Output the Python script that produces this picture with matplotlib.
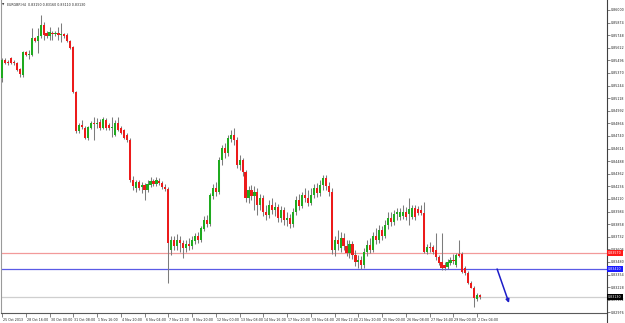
import matplotlib
matplotlib.use("Agg")
import matplotlib.pyplot as plt
import matplotlib.transforms as mtransforms
from matplotlib.lines import Line2D
import numpy as np

symbol_title = "EURGBP,H4  0.83150 0.83160 0.83110 0.83130"

opens = [0.8532, 0.8550, 0.8548, 0.8552, 0.8548, 0.8547, 0.8541, 0.8535, 0.8558, 0.8555,
         0.8555, 0.8572, 0.8569, 0.8574, 0.8585, 0.8577, 0.8574, 0.8577, 0.8576, 0.8577,
         0.8575, 0.8576, 0.8575, 0.8569, 0.8563, 0.8518, 0.8479, 0.8485, 0.8482, 0.8472,
         0.8482, 0.8487, 0.8486, 0.8488, 0.8482, 0.8490, 0.8485, 0.8482, 0.8475, 0.8487,
         0.8482, 0.8480, 0.8475, 0.8470, 0.8430, 0.8422, 0.8428, 0.8423, 0.8425, 0.8420,
         0.8425, 0.8429, 0.8426, 0.8429, 0.8427, 0.8423, 0.8421, 0.8360, 0.8370, 0.8364,
         0.8370, 0.8367, 0.8362, 0.8366, 0.8364, 0.8369, 0.8374, 0.8370, 0.8381, 0.8390,
         0.8386, 0.8414, 0.8422, 0.8418, 0.8450, 0.8462, 0.8457, 0.8471, 0.8475, 0.8470,
         0.8445, 0.8450, 0.8438, 0.8412, 0.8420, 0.8414, 0.8418, 0.8405, 0.8412, 0.8398,
         0.8395, 0.8405, 0.8400, 0.8403, 0.8392, 0.8400, 0.8390, 0.8392, 0.8386, 0.8398,
         0.8410, 0.8404, 0.8415, 0.8412, 0.8407, 0.8415, 0.8422, 0.8417, 0.8425, 0.8432,
         0.8424, 0.8418, 0.8360, 0.8370, 0.8362, 0.8372, 0.8364, 0.8357, 0.8366, 0.8355,
         0.8348, 0.8350, 0.8345, 0.8358, 0.8365, 0.8360, 0.8374, 0.8370, 0.8380, 0.8374,
         0.8385, 0.8392, 0.8388, 0.8396, 0.8393, 0.8394, 0.8398, 0.8396, 0.8393, 0.8402,
         0.8401, 0.8400, 0.8397, 0.8358, 0.8363, 0.8363, 0.8360, 0.8353, 0.8348, 0.8345,
         0.8343, 0.8347, 0.8350, 0.8345, 0.8356, 0.8356, 0.8342, 0.8337, 0.8327, 0.8322,
         0.8311, 0.8315]
highs = [0.8552, 0.8552, 0.8550, 0.8553, 0.8550, 0.8548, 0.8542, 0.8559, 0.8559, 0.8560,
         0.8582, 0.8573, 0.8582, 0.8595, 0.8588, 0.8579, 0.8583, 0.8579, 0.8579, 0.8583,
         0.8587, 0.8577, 0.8577, 0.8570, 0.8564, 0.8519, 0.8487, 0.8490, 0.8484, 0.8484,
         0.8489, 0.8493, 0.8492, 0.8491, 0.8493, 0.8492, 0.8487, 0.8493, 0.8490, 0.8493,
         0.8484, 0.8481, 0.8477, 0.8472, 0.8434, 0.8430, 0.8430, 0.8428, 0.8427, 0.8430,
         0.8433, 0.8431, 0.8433, 0.8432, 0.8429, 0.8426, 0.8423, 0.8374, 0.8374, 0.8376,
         0.8374, 0.8370, 0.8370, 0.8372, 0.8374, 0.8377, 0.8378, 0.8384, 0.8394, 0.8395,
         0.8417, 0.8426, 0.8428, 0.8453, 0.8465, 0.8467, 0.8475, 0.8480, 0.8482, 0.8473,
         0.8455, 0.8452, 0.8440, 0.8424, 0.8425, 0.8424, 0.8422, 0.8416, 0.8415, 0.8405,
         0.8410, 0.8412, 0.8408, 0.8406, 0.8404, 0.8403, 0.8398, 0.8396, 0.8402, 0.8414,
         0.8416, 0.8418, 0.8422, 0.8420, 0.8422, 0.8426, 0.8427, 0.8430, 0.8435, 0.8435,
         0.8428, 0.8422, 0.8374, 0.8380, 0.8378, 0.8377, 0.8370, 0.8370, 0.8369, 0.8360,
         0.8355, 0.8354, 0.8362, 0.8370, 0.8372, 0.8378, 0.8382, 0.8385, 0.8384, 0.8390,
         0.8398, 0.8398, 0.8400, 0.8402, 0.8402, 0.8405, 0.8403, 0.8412, 0.8405, 0.8405,
         0.8404, 0.8405, 0.8408, 0.8366, 0.8368, 0.8365, 0.8377, 0.8355, 0.8377, 0.8348,
         0.8351, 0.8353, 0.8356, 0.8357, 0.8370, 0.8358, 0.8344, 0.8339, 0.8329, 0.8324,
         0.8317, 0.8316]
lows = [0.8528, 0.8546, 0.8545, 0.8546, 0.8545, 0.8539, 0.8533, 0.8533, 0.8554, 0.8551,
        0.8554, 0.8568, 0.8557, 0.8572, 0.8570, 0.8572, 0.8570, 0.8570, 0.8574, 0.8570,
        0.8568, 0.8572, 0.8568, 0.8561, 0.8517, 0.8477, 0.8477, 0.8481, 0.8471, 0.8470,
        0.8481, 0.8470, 0.8482, 0.8480, 0.8481, 0.8480, 0.8480, 0.8473, 0.8474, 0.8479,
        0.8476, 0.8471, 0.8468, 0.8428, 0.8420, 0.8418, 0.8420, 0.8417, 0.8410, 0.8418,
        0.8423, 0.8424, 0.8424, 0.8425, 0.8421, 0.8419, 0.8327, 0.8355, 0.8360, 0.8360,
        0.8358, 0.8352, 0.8358, 0.8360, 0.8361, 0.8366, 0.8367, 0.8368, 0.8379, 0.8383,
        0.8384, 0.8411, 0.8414, 0.8416, 0.8445, 0.8452, 0.8454, 0.8468, 0.8465, 0.8442,
        0.8440, 0.8434, 0.8408, 0.8407, 0.8410, 0.8400, 0.8395, 0.8400, 0.8394, 0.8390,
        0.8392, 0.8396, 0.8394, 0.8388, 0.8388, 0.8385, 0.8384, 0.8382, 0.8383, 0.8395,
        0.8400, 0.8402, 0.8408, 0.8404, 0.8405, 0.8412, 0.8413, 0.8414, 0.8420, 0.8420,
        0.8414, 0.8356, 0.8354, 0.8360, 0.8358, 0.8360, 0.8354, 0.8352, 0.8351, 0.8344,
        0.8342, 0.8341, 0.8342, 0.8354, 0.8357, 0.8358, 0.8366, 0.8367, 0.8370, 0.8372,
        0.8381, 0.8384, 0.8385, 0.8390, 0.8390, 0.8391, 0.8390, 0.8385, 0.8391, 0.8390,
        0.8395, 0.8395, 0.8357, 0.8356, 0.8358, 0.8356, 0.8350, 0.8345, 0.8340, 0.8340,
        0.8341, 0.8345, 0.8346, 0.8343, 0.8353, 0.8337, 0.8335, 0.8326, 0.8322, 0.8303,
        0.8309, 0.8311]
closes = [0.8550, 0.8547, 0.8547, 0.8547, 0.8547, 0.8540, 0.8536, 0.8558, 0.8555, 0.8556,
          0.8572, 0.8569, 0.8574, 0.8585, 0.8575, 0.8574, 0.8578, 0.8576, 0.8577, 0.8575,
          0.8576, 0.8574, 0.8569, 0.8562, 0.8518, 0.8479, 0.8485, 0.8483, 0.8472, 0.8483,
          0.8487, 0.8486, 0.8487, 0.8482, 0.8491, 0.8482, 0.8482, 0.8483, 0.8487, 0.8480,
          0.8477, 0.8472, 0.8470, 0.8430, 0.8424, 0.8428, 0.8422, 0.8425, 0.8420, 0.8426,
          0.8429, 0.8426, 0.8430, 0.8427, 0.8423, 0.8421, 0.8367, 0.8370, 0.8364, 0.8370,
          0.8367, 0.8362, 0.8366, 0.8364, 0.8370, 0.8374, 0.8370, 0.8382, 0.8390, 0.8386,
          0.8415, 0.8422, 0.8418, 0.8450, 0.8462, 0.8457, 0.8472, 0.8475, 0.8470, 0.8445,
          0.8450, 0.8438, 0.8412, 0.8420, 0.8414, 0.8418, 0.8405, 0.8412, 0.8398, 0.8395,
          0.8405, 0.8400, 0.8403, 0.8392, 0.8400, 0.8390, 0.8392, 0.8386, 0.8398, 0.8410,
          0.8404, 0.8415, 0.8412, 0.8407, 0.8415, 0.8422, 0.8417, 0.8425, 0.8432, 0.8424,
          0.8418, 0.8360, 0.8370, 0.8366, 0.8372, 0.8364, 0.8357, 0.8366, 0.8355, 0.8348,
          0.8350, 0.8345, 0.8358, 0.8365, 0.8360, 0.8374, 0.8370, 0.8380, 0.8374, 0.8385,
          0.8392, 0.8388, 0.8396, 0.8398, 0.8398, 0.8398, 0.8393, 0.8401, 0.8402, 0.8393,
          0.8397, 0.8397, 0.8358, 0.8363, 0.8362, 0.8358, 0.8353, 0.8347, 0.8342, 0.8342,
          0.8348, 0.8350, 0.8349, 0.8355, 0.8354, 0.8338, 0.8337, 0.8327, 0.8322, 0.8312,
          0.8315, 0.8313]

time_tick_bars = [0, 8, 16, 24, 32, 40, 48, 56, 64, 72, 80, 88, 96, 104, 112, 120,
                  128, 136, 144, 152, 160]
time_tick_labels = ["25 Oct 2013", "28 Oct 16:00", "30 Oct 00:00", "31 Oct 08:00",
                    "1 Nov 16:00", "4 Nov 20:00", "6 Nov 04:00", "7 Nov 12:00",
                    "8 Nov 20:00", "12 Nov 00:00", "13 Nov 08:00", "14 Nov 16:00",
                    "17 Nov 20:00", "19 Nov 04:00", "20 Nov 12:00", "21 Nov 20:00",
                    "25 Nov 00:00", "26 Nov 08:00", "27 Nov 16:00", "29 Nov 00:00",
                    "2 Dec 04:00"]
price_ticks = [0.86000, 0.85874, 0.85748, 0.85622, 0.85496, 0.85370, 0.85244, 0.85118,
               0.84992, 0.84866, 0.84740, 0.84614, 0.84488, 0.84362, 0.84236, 0.84110,
               0.83984, 0.83858, 0.83732, 0.83606, 0.83480, 0.83354, 0.83228, 0.83102,
               0.82976]

level_red = 0.8357
level_blue = 0.8341
level_current = 0.8313
arrow_from = (166.7, 0.8341)
arrow_to = (170.7, 0.8307)

W, H = 625, 323
fig = plt.figure(figsize=(W / 100, H / 100), dpi=100)
fig.patch.set_facecolor("white")
ax = fig.add_axes([1 / W, 10 / H, 606 / W, 313 / H])
ax.set_facecolor("white")

o = np.array(opens); h = np.array(highs); l = np.array(lows); c = np.array(closes)
x = np.arange(len(o))

ax.set_xlim(-0.337, 203.7)
ax.set_ylim(0.8610 - 0.0313, 0.8610)

# level lines
ax.axhline(level_red, color="#f29a9a", lw=0.9, zorder=1)
ax.axhline(level_blue, color="#5a5ae6", lw=0.9, zorder=1)
ax.axhline(level_current, color="#cfcfcf", lw=0.9, zorder=1)

# candles
ax.vlines(x, l, h, color="#7c7c7c", lw=0.75, zorder=2)
bottoms = np.minimum(o, c)
heights = np.maximum(np.abs(c - o), 0.00007)
colors = ["#1faa1f" if cc >= oo else "#ec1b1b" for oo, cc in zip(o, c)]
ax.bar(x, heights, bottom=bottoms, width=0.72, color=colors, edgecolor="none", zorder=3)

# arrow
ax.annotate("", xy=arrow_to, xytext=arrow_from,
            arrowprops=dict(arrowstyle="-|>", color="#1c1cc8", lw=1.1,
                            mutation_scale=5, shrinkA=0, shrinkB=0), zorder=5)

# spines
ax.spines["top"].set_visible(False)
ax.spines["left"].set_color("#9a9a9a")
ax.spines["left"].set_linewidth(0.8)
ax.spines["bottom"].set_color("#5a5a5a")
ax.spines["bottom"].set_linewidth(0.8)
ax.spines["right"].set_color("#404040")
ax.spines["right"].set_linewidth(0.8)
fig.add_artist(Line2D([607 / W, 607 / W], [0, 10 / H], color="#404040", lw=0.8,
                      transform=fig.transFigure))

fs_y = 2.3
fs_x = 2.3
txtc = "#222222"
ax.yaxis.tick_right()
ax.set_yticks(price_ticks)
ax.set_yticklabels([f"{v:.5f}" for v in price_ticks])
ax.tick_params(axis="y", length=2, width=0.5, pad=0.8, labelsize=fs_y, colors="#505050",
               labelcolor=txtc)

ax.set_xticks(time_tick_bars)
ax.set_xticklabels(time_tick_labels)
ax.tick_params(axis="x", length=3, width=0.5, pad=0.6, labelsize=fs_x, colors="#505050",
               labelcolor=txtc)
off = mtransforms.ScaledTranslation(1.0 / 100, 0, fig.dpi_scale_trans)
for lbl in ax.get_xticklabels():
    lbl.set_horizontalalignment("left")
    lbl.set_transform(lbl.get_transform() + off)

# price level boxes on the axis
btrans = mtransforms.blended_transform_factory(ax.transAxes, ax.transData) + \
    mtransforms.ScaledTranslation(1.2 / 100, 0, fig.dpi_scale_trans)
for lev, fc in [(level_red, "#ff1a1a"), (level_blue, "#1a1aff"), (level_current, "#000000")]:
    ax.text(1.0, lev, f"{lev:.5f}", transform=btrans, ha="left", va="center",
            fontsize=fs_y, color="white", clip_on=False, zorder=10,
            bbox=dict(boxstyle="square,pad=0.25", fc=fc, ec="none"))

# title
fig.text(2 / W, 1 - 5 / H, "\u25BC", fontsize=2.2, color="#333333", va="center", ha="left")
fig.text(7 / W, 1 - 5 / H, symbol_title, fontsize=fs_x, color=txtc, va="center", ha="left")

fig.savefig("out.png", dpi=100, facecolor="white")
